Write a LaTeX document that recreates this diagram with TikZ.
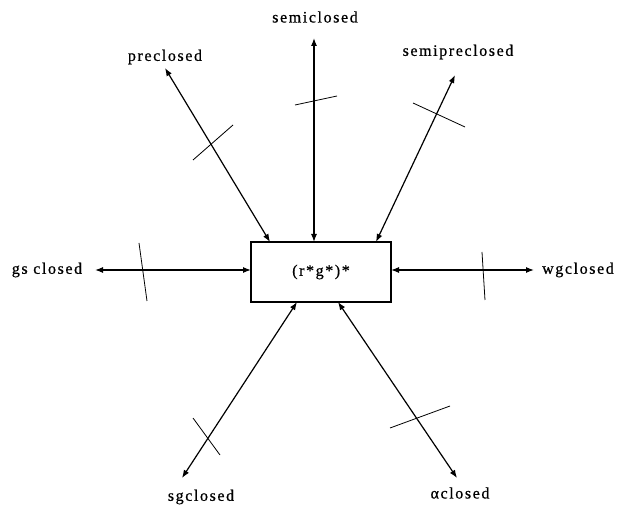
\documentclass[tikz,border=0pt]{standalone}
\usepackage{fontspec}
\setmainfont{Liberation Serif}[LetterSpace=10,FakeBold=0.6]
\usetikzlibrary{arrows.meta}
\begin{document}
\begin{tikzpicture}[x=1pt,y=-1pt,
  lbl/.style={font=\fontsize{16}{18}\selectfont, inner sep=0pt},
  conn/.style={line width=1.2pt, {Latex[length=8pt,width=6pt]}-{Latex[length=8pt,width=6pt]}},
  tick/.style={line width=0.8pt}]
\useasboundingbox (0,0) rectangle (619,513);
\fill[white] (0,0) rectangle (619,513);
\node[draw, line width=1.1pt, minimum width=140pt, minimum height=60pt, inner sep=0pt, font=\fontsize{16}{18}\selectfont] (box) at (321,272) {(r*g*)*};
\node[lbl] (semi) at (315,17) {semiclosed};
\node[lbl] (pre) at (165,57) {preclosed};
\node[lbl] (spre) at (458,52) {semipreclosed};
\node[lbl] (gs) at (47,270) {gs closed};
\node[lbl] (wg) at (578,270) {wgclosed};
\node[lbl] (sg) at (201,497) {sgclosed};
\node[lbl] (al) at (460,493) {αclosed};
% arrow ends
\coordinate (a1) at (314,38);  \coordinate (b1) at (314,242);
\coordinate (a2) at (165,68);  \coordinate (b2) at (270,242);
\coordinate (a3) at (455,75);  \coordinate (b3) at (376,242);
\coordinate (a4) at (95,270);  \coordinate (b4) at (251,270);
\coordinate (a5) at (534,270); \coordinate (b5) at (391,270);
\coordinate (a6) at (182,478); \coordinate (b6) at (297,302);
\coordinate (a7) at (457,478); \coordinate (b7) at (338,302);
\draw[conn] (a1) -- (b1);
\draw[conn] (a2) -- (b2);
\draw[conn] (a3) -- (b3);
\draw[conn] (a4) -- (b4);
\draw[conn] (a5) -- (b5);
\draw[conn] (a6) -- (b6);
\draw[conn] (a7) -- (b7);
% ticks
\draw[tick] (193,160) -- (233,125);
\draw[tick] (295,105) -- (337,96);
\draw[tick] (413,103) -- (465,127);
\draw[tick] (139,243) -- (147,301);
\draw[tick] (482,252) -- (485,300);
\draw[tick] (193,418) -- (220,455);
\draw[tick] (390,428) -- (450,406);
\end{tikzpicture}
\end{document}
